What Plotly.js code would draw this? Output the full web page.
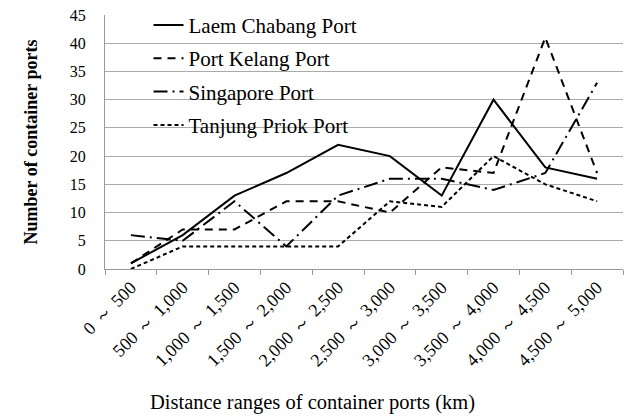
<!DOCTYPE html>
<html>
<head>
<meta charset="utf-8">
<script src="https://cdn.plot.ly/plotly-3.0.1.min.js"></script>
<style>html,body{margin:0;padding:0;background:#fff;}#chart{width:624px;height:418px;}</style>
</head>
<body>
<div id="chart"></div>
<script>
const categories = ["0\u2004～\u2004500","500\u2004～\u20041,000","1,000\u2004～\u20041,500","1,500\u2004～\u20042,000","2,000\u2004～\u20042,500","2,500\u2004～\u20043,000","3,000\u2004～\u20043,500","3,500\u2004～\u20044,000","4,000\u2004～\u20044,500","4,500\u2004～\u20045,000"];
const laemChabang = [1, 6, 13, 17, 22, 20, 13, 30, 18, 16];
const portKelang  = [1, 7, 7, 12, 12, 10, 18, 17, 41, 17];
const singapore   = [6, 5, 12, 4, 13, 16, 16, 14, 17, 33];
const tanjungPriok= [0, 4, 4, 4, 4, 12, 11, 20, 15, 12];
const seriesNames = ["Laem Chabang Port","Port Kelang Port","Singapore Port","Tanjung Priok Port"];
const yTicks = [0,5,10,15,20,25,30,35,40,45];
const xTitle = "Distance ranges of container ports (km)";
const yTitle = "Number of container ports";

const serif = "Liberation Serif";
const dashes = ["solid","8px,6px","14px,5px,2px,5px","4px,3px"];
const data = [laemChabang, portKelang, singapore, tanjungPriok].map((ys, i) => ({
  type: "scatter", mode: "lines", x: categories, y: ys, name: seriesNames[i],
  legendgroup: "g" + i,
  line: {color: "#000", width: 2, dash: dashes[i]}
}));

const layout = {
  width: 624, height: 418,
  margin: {l: 105, r: 1, t: 15, b: 149},
  paper_bgcolor: "#fff", plot_bgcolor: "#fff",
  font: {family: serif, color: "#000", size: 15},
  showlegend: true,
  legend: {x: 0.084, y: 1.04, xanchor: "left", yanchor: "top", bgcolor: "rgba(0,0,0,0)",
           font: {family: serif, size: 21, color: "#000"}, tracegroupgap: 3},
  xaxis: {
    type: "category", tickangle: -45, tickson: "boundaries", ticks: "outside", ticklen: 5,
    tickcolor: "#999", showgrid: false, showline: true, linecolor: "#999", linewidth: 1,
    tickfont: {family: serif, size: 18}, range: [-0.5, 9.5]
  },
  yaxis: {
    range: [0, 45], tickvals: yTicks, ticks: "", showline: true, linecolor: "#999",
    gridcolor: "#aaa", gridwidth: 1, zeroline: false, ticklabelstandoff: 15,
    tickfont: {family: serif, size: 16},
    title: {text: "<b>" + yTitle + "</b>", font: {family: serif, size: 18}, standoff: 27}
  },
  annotations: [{
    text: xTitle, xref: "paper", yref: "paper", x: 0.4, y: -0.524,
    xanchor: "center", yanchor: "middle", showarrow: false,
    font: {family: serif, size: 20.5, color: "#000"}
  }]
};
Plotly.newPlot("chart", data, layout, {displayModeBar: false, staticPlot: true});
</script>
</body>
</html>
